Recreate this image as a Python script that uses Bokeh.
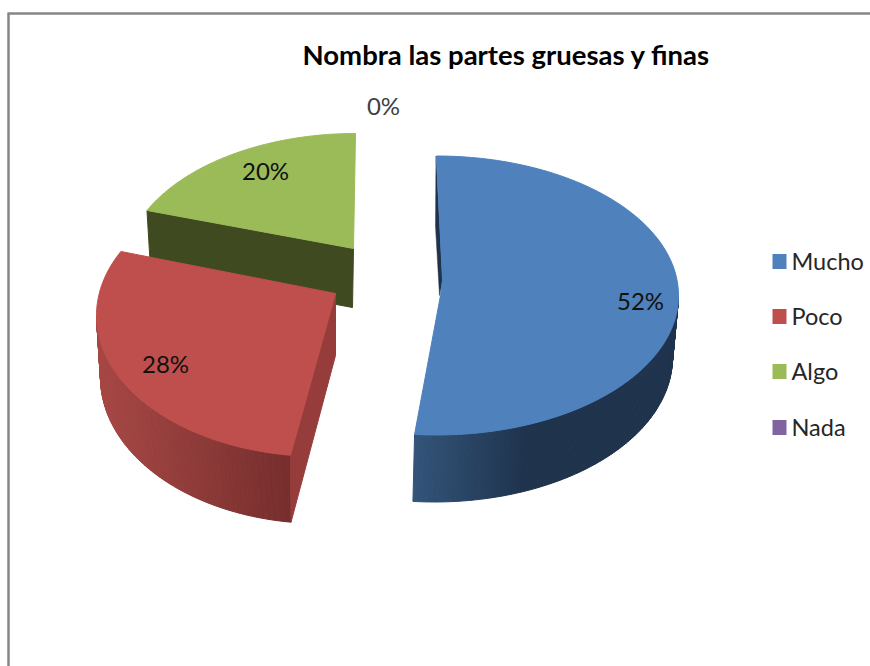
import numpy as np
from bokeh.plotting import figure
from bokeh.models import Range1d
from bokeh.core.properties import value
from bokeh.embed import file_html
from bokeh.resources import INLINE

# --- data ---
TITLE = "Nombra las partes gruesas y finas"
categories = ["Mucho", "Poco", "Algo", "Nada"]
percent = [52, 28, 20, 0]
colors = ["#4F81BD", "#BE4F4C", "#9BBB59", "#8064A2"]

# --- layout of the exploded 3D pie, in reference pixels ---
W, H = 870, 666
FONT = value("Lato")
rim_cx = [436, 320, 355]
rim_cy = [295, 315, 270]
rim_a = [242, 224, 232]
rim_b = [139.5, 141, 137]
apex_x = [440, 335, 353]
apex_y = [295, 293, 248]
nudge_start = [0, 0.5, 8]
nudge_end = [-2, 9, 0]
DROP, SHRINK_A, GROW_B = 62, 4, 5


def rim(i, deg, lower=False):
    t = np.radians(deg)
    a = rim_a[i] - (SHRINK_A if lower else 0)
    b = rim_b[i] + (GROW_B if lower else 0)
    cy = rim_cy[i] + (DROP if lower else 0)
    cx = rim_cx[i] - (2 if lower and i == 0 else 0)
    return cx + a * np.sin(t), cy - b * np.cos(t)


def mix(c1, c2, f):
    f = float(np.clip(f, 0, 1))
    return "#%02x%02x%02x" % tuple(int(round(x + (y - x) * f)) for x, y in zip(c1, c2))


p = figure(width=W, height=H, x_range=Range1d(0, W), y_range=Range1d(H, 0),
           output_backend="svg", toolbar_location=None, min_border=0,
           x_axis_type=None, y_axis_type=None, outline_line_color=None,
           background_fill_color="white", border_fill_color="white")
p.grid.visible = False

# chart-area frame (left and top visible)
p.line([8, 8], [H, 13], line_color="#868686", line_width=2.5)
p.line([7, W], [13, 13], line_color="#868686", line_width=2.5)

cum = np.cumsum([0] + percent) * 3.6
start = [cum[i] + nudge_start[i] for i in range(3)]
end = [cum[i + 1] + nudge_end[i] for i in range(3)]

side_grad = {0: ((0x32, 0x54, 0x79), (0x1f, 0x33, 0x4d), 415, 525),
             1: ((0xa6, 0x47, 0x44), (0x75, 0x2e, 0x2d), 100, 292)}
side_range = {0: (90, end[0]), 1: (start[1], 270)}
inner_col = {1: "#963D3B", 2: "#3F4A21"}


def draw_side(i):
    lo, hi = side_range[i]
    c1, c2, x0, x1 = side_grad[i]
    edges = np.linspace(lo, hi, 121)
    xs, ys, cs = [], [], []
    for d0, d1 in zip(edges[:-1], edges[1:]):
        ax, ay = rim(i, d0)
        bx, by = rim(i, d1)
        cx_, cy_ = rim(i, d1, True)
        dx_, dy_ = rim(i, d0, True)
        xs.append([ax, bx, cx_, dx_])
        ys.append([ay, by, cy_, dy_])
        cs.append(mix(c1, c2, ((ax + bx) / 2 - x0) / (x1 - x0)))
    p.patches(xs, ys, fill_color=cs, line_color=cs, line_width=1)


def top_face(i):
    d = np.linspace(start[i], end[i], 90)
    x, y = rim(i, d)
    return list(x), list(y)


# Algo: cut face, then top
ex, ey = rim(2, start[2])
ebx, eby = rim(2, start[2], True)
p.patch([ex, apex_x[2], apex_x[2] - 1, ebx], [ey, apex_y[2], apex_y[2] + DROP - 3, eby],
        fill_color=inner_col[2], line_color=inner_col[2])
x, y = top_face(2)
p.patch(x + [apex_x[2]], y + [apex_y[2]], fill_color=colors[2], line_color=colors[2], line_width=1)

# Mucho: thin inner face, outer wall, top
sx, sy = rim(0, start[0])
p.patch([sx - 0.5, sx - 1, apex_x[0] - 1, apex_x[0] + 2],
        [sy, sy + 70, apex_y[0], apex_y[0] - 15],
        fill_color="#1F334D", line_color="#1F334D", line_width=0.5)
draw_side(0)
x, y = top_face(0)
p.patch(x + [apex_x[0], apex_x[0] + 2], y + [apex_y[0], apex_y[0] - 15],
        fill_color=colors[0], line_color=colors[0], line_width=1)

# Poco: cut face, outer wall, top
fx, fy = rim(1, start[1])
fbx, fby = rim(1, start[1], True)
draw_side(1)
p.patch([fx, apex_x[1], apex_x[1], fbx], [fy, apex_y[1], apex_y[1] + DROP, fby],
        fill_color=inner_col[1], line_color=inner_col[1])
x, y = top_face(1)
p.patch(x + [apex_x[1]], y + [apex_y[1]], fill_color=colors[1], line_color=colors[1], line_width=1)

# title
p.text([506], [54], text=[TITLE], text_font=FONT, text_font_style="bold",
       text_font_size="27.5px", text_color="#000000", text_align="center", text_baseline="middle")

# percentage labels
label_x = [640, 165, 265, 383]
label_y = [300, 363, 170, 105]
label_col = ["#111111", "#111111", "#111111", "#404040"]
p.text(label_x, label_y, text=[f"{v}%" for v in percent], text_font=FONT,
       text_font_size="24px", text_color=label_col, text_align="center", text_baseline="middle")

# legend
leg_y = [261, 316, 371, 427]
p.rect([779] * 4, leg_y, width=14, height=15, fill_color=colors, line_color=None)
p.text([791] * 4, [y - 1 for y in leg_y], text=categories, text_font=FONT, text_font_size="23.5px",
       text_color="#262626", text_align="left", text_baseline="middle")

open("out.html", "w").write(file_html(p, INLINE))
